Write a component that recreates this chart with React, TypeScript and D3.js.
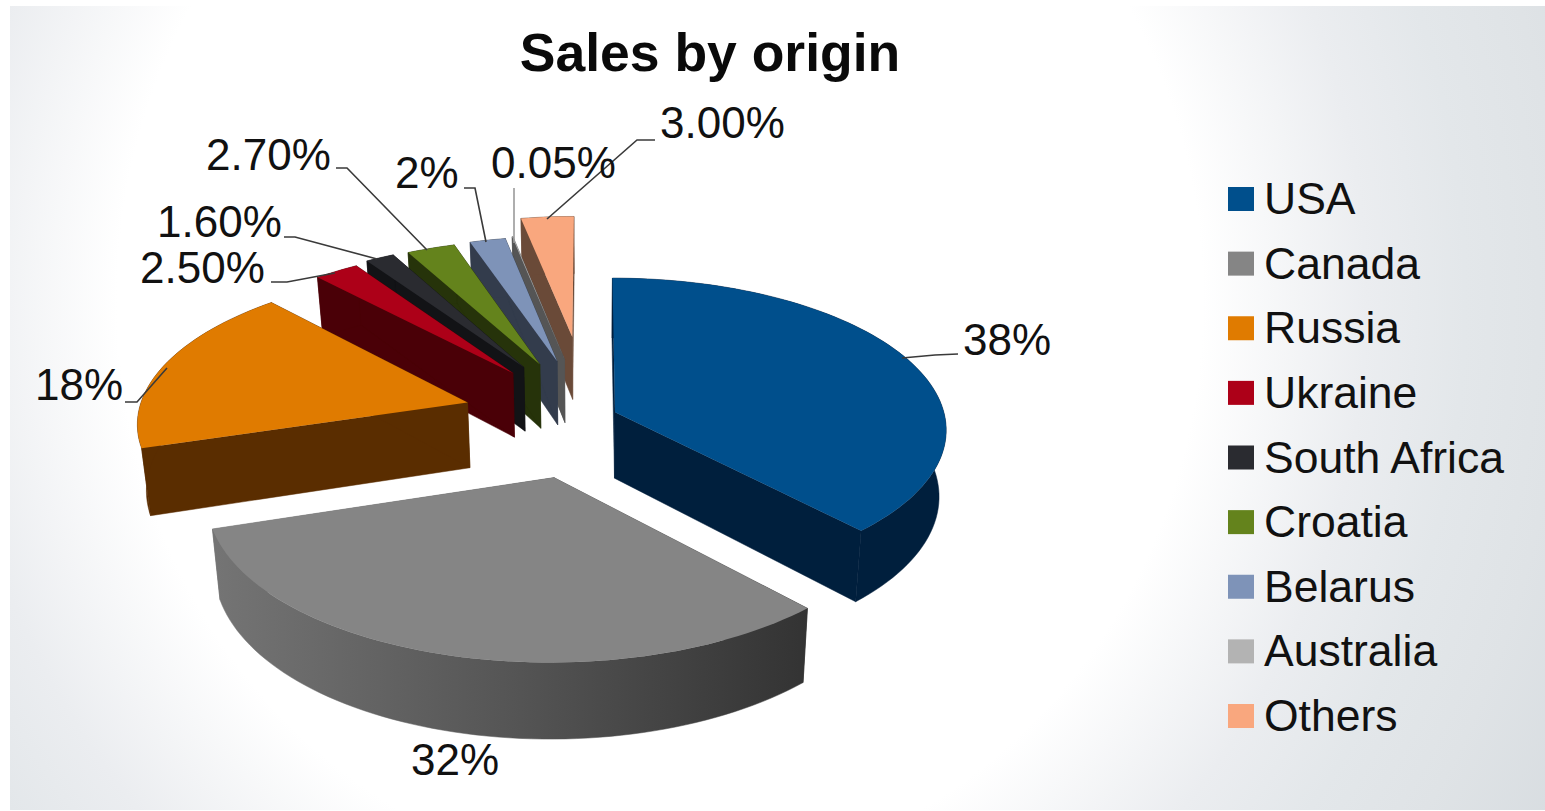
import React from "react";
import * as d3 from "d3";

const categories = ["USA", "Canada", "Russia", "Ukraine", "South Africa", "Croatia", "Belarus", "Australia", "Others"];
const shares = [38, 32, 18, 2.5, 1.6, 2.7, 2, 0.05, 3];
const shareLabels = ["38%", "32%", "18%", "2.50%", "1.60%", "2.70%", "2%", "0.05%", "3.00%"];
const explosions = [0.085, 0.4, 0.385, 0.385, 0.4, 0.395, 0.4, 0.41, 0.57];
const topColors = ["#004f8c", "#858585", "#e07b00", "#ad0018", "#2a2b30", "#64831c", "#7e93b8", "#b3b3b3", "#f9a77e"];
const wallColors = ["#001f3d", "url(#canadaWall)", "#5a2d00", "#4a0007", "#121316", "#26330a", "#333c4c", "#555555", "#6a4a38"];
const drawOrder = [8, 7, 6, 5, 4, 3, 2, 0, 1];

// label anchor: [x start, baseline] and its leader polyline, per slice
const labelPos: [number, number][] = [[963, 355], [411, 775], [35, 400], [140, 283], [157, 237], [206, 170], [395, 188], [491, 178], [660, 138]];
const leaders: [number, number][][] = [
  [[958, 354], [935, 355], [902, 358]],
  [],
  [[125, 402], [137, 402], [167, 368]],
  [[271, 282], [287, 282], [335, 273]],
  [[284, 237], [295, 237], [377, 259]],
  [[336, 168], [347, 168], [427, 250]],
  [[464, 188], [475, 188], [486, 242]],
  [[514, 188], [514, 243]],
  [[655, 140], [637, 140], [547, 219]],
];

const W = 1545, H = 811;
const FONT = "'Liberation Sans', Arial, sans-serif";
const persp = 0.11;
const xScale = d3.scaleLinear().domain([-1, 1]).range([589 - 330, 589 + 330]);
const yScale = d3.scaleLinear().domain([-1, 1]).range([417 - 150, 417 + 150]);
const wallDrop = 66, wallTaper = 0.98;

type P = [number, number];
const project = (X: number, Y: number, lower = false): P => {
  const s = 1 / (1 - persp * Y);
  const px = xScale(X * s), py = yScale(Y * s);
  if (!lower) return [px, py];
  return [xScale(0) + (px - xScale(0)) * wallTaper, py + wallDrop * Math.pow(s, 0.9)];
};

const pie = d3.pie<number>().sort(null).value((d) => d);
const arcs = pie(shares);
const line = d3.line<P>();

const slices = arcs.map((a, i) => {
  const mid = (a.startAngle + a.endAngle) / 2;
  const ox = Math.sin(mid) * explosions[i], oy = -Math.cos(mid) * explosions[i];
  const steps = Math.max(2, Math.ceil((a.endAngle - a.startAngle) / 0.03));
  const rim = d3.range(steps + 1).map((k) => {
    const t = a.startAngle + ((a.endAngle - a.startAngle) * k) / steps;
    return [ox + Math.sin(t), oy - Math.cos(t)] as P;
  });
  const up = rim.map(([x, y]) => project(x, y));
  const low = rim.map(([x, y]) => project(x, y, true));
  const apexUp = project(ox, oy), apexLow = project(ox, oy, true);
  const close = (p: P[]) => line(p) + "Z";
  return {
    top: close([apexUp, ...up]),
    outer: close([...up, ...low.slice().reverse()]),
    wallA: close([apexUp, up[0], low[0], apexLow]),
    wallB: close([apexUp, up[up.length - 1], low[low.length - 1], apexLow]),
  };
});

const legendY = d3.scalePoint<string>().domain(categories).range([199, 716]);

export default function App() {
  return (
    <svg width={W} height={H} viewBox={`0 0 ${W} ${H}`} style={{ position: "absolute", left: 0, top: 0, display: "block", background: "#fff" }}>
      <defs>
        <radialGradient id="bg" gradientUnits="userSpaceOnUse" cx={0} cy={0} r={1} gradientTransform="translate(660 300) scale(1032 1104)">
          <stop offset="0.526" stopColor="#ffffff" />
          <stop offset="0.684" stopColor="#ebedf0" />
          <stop offset="0.78" stopColor="#e3e7ea" />
          <stop offset="0.874" stopColor="#dfe3e6" />
          <stop offset="1" stopColor="#d7dce0" />
        </radialGradient>
        <linearGradient id="canadaWall" gradientUnits="userSpaceOnUse" x1={216} x2={808} y1={0} y2={0}>
          <stop offset="0" stopColor="#747474" />
          <stop offset="0.5" stopColor="#555555" />
          <stop offset="1" stopColor="#333333" />
        </linearGradient>
      </defs>
      <rect x={10} y={6} width={W - 10} height={804} fill="url(#bg)" />
      <text x={710} y={71} textAnchor="middle" fontFamily={FONT} fontWeight={700} fontSize={53.5} fill="#0a0a0a">Sales by origin</text>

      {drawOrder.map((i) => (
        <g key={categories[i]}>
          <path d={slices[i].wallA} fill={wallColors[i]} stroke={wallColors[i]} strokeWidth={0.5} />
          <path d={slices[i].wallB} fill={wallColors[i]} stroke={wallColors[i]} strokeWidth={0.5} />
          <path d={slices[i].outer} fill={wallColors[i]} stroke={wallColors[i]} strokeWidth={0.5} />
          <path d={slices[i].top} fill={topColors[i]} />
        </g>
      ))}

      {leaders.map((pts, i) => pts.length > 0 && (
        <path key={i} d={line(pts) ?? ""} fill="none" stroke={i === 7 ? "#9a9a9a" : "#3a3a3a"} strokeWidth={1.6} />
      ))}
      {shareLabels.map((t, i) => (
        <text key={t} x={labelPos[i][0]} y={labelPos[i][1]} fontFamily={FONT} fontSize={44} fill="#111">{t}</text>
      ))}

      {categories.map((c, i) => (
        <g key={c}>
          <rect x={1228} y={legendY(c)! - 12} width={26} height={24} fill={topColors[i]} />
          <text x={1264} y={(legendY(c) as number) + 15} fontFamily={FONT} fontSize={44.5} fill="#111">{c}</text>
        </g>
      ))}
    </svg>
  );
}
